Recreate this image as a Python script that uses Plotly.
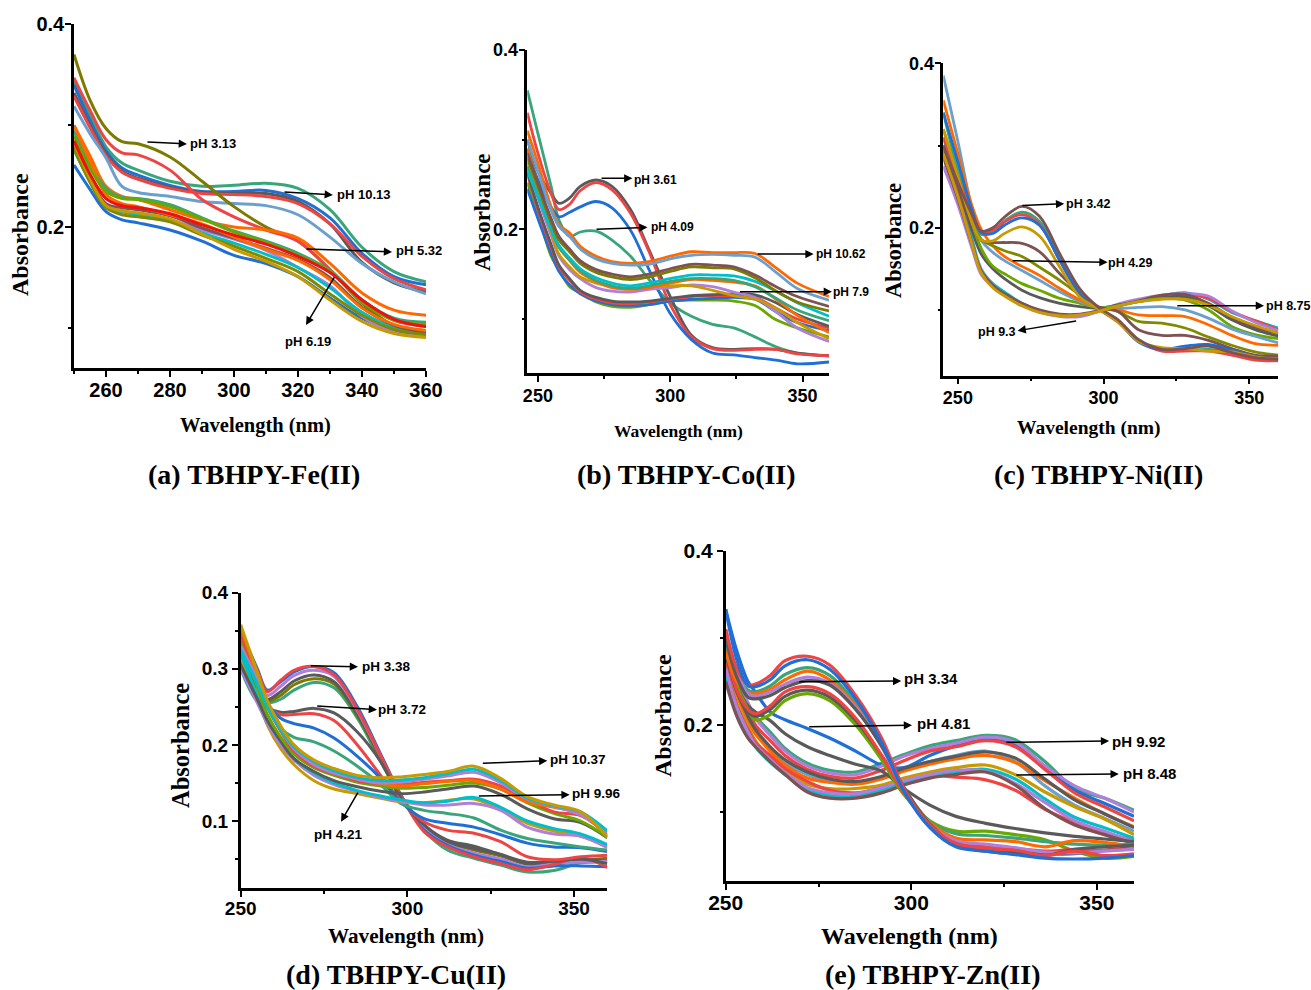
import plotly.graph_objects as go

# Palette of the spectra
BLUE="#1f6fd6"; RED="#ee4444"; DGRAY="#5a5a5a"; GREEN="#38a67a"; ORANGE="#ff6a00"; STEEL="#6b9fce"
BROWN="#7c5252"; OLIVE="#808a00"; GOLD="#c99a00"; LIME="#6aa800"; TEAL="#00bfc8"; PURPLE="#b07fdc"; DOLIVE="#7d7a00"

# ---------- (a) Fe ----------
a_nm=[250,255,260,265,270,280,290,300,310,320,330,340,350,360]
a_ph313=[.370,.325,.297,.284,.282,.269,.245,.220,.200,.186,.158,.125,.103,.098]
a_red1=[.347,.315,.286,.273,.271,.256,.227,.210,.197,.186,.158,.128,.108,.102]
a_ph532=[.300,.270,.240,.230,.227,.217,.207,.200,.197,.189,.164,.135,.118,.113]
a_ph1013=[.343,.310,.279,.263,.256,.245,.240,.241,.243,.238,.217,.180,.156,.146]
a_blue1=[.340,.305,.275,.258,.251,.241,.235,.235,.236,.228,.209,.174,.151,.143]
a_red2=[.329,.298,.270,.254,.247,.238,.233,.232,.230,.223,.203,.171,.149,.138]
a_gray1=[.332,.300,.272,.255,.248,.239,.234,.233,.233,.225,.203,.165,.145,.136]
a_steel=[.319,.292,.268,.240,.234,.230,.225,.223,.221,.212,.190,.164,.146,.134]
a_green2=[.295,.262,.238,.229,.228,.222,.209,.196,.186,.174,.157,.128,.110,.106]
a_lime=[.290,.258,.235,.228,.227,.220,.208,.195,.185,.172,.156,.126,.108,.104]
a_orange2=[.300,.265,.232,.223,.220,.212,.203,.190,.178,.167,.148,.120,.104,.098]
a_brown=[.280,.248,.223,.219,.217,.211,.199,.189,.179,.168,.150,.121,.103,.096]
a_purple=[.278,.246,.222,.216,.213,.207,.197,.188,.177,.160,.142,.112,.096,.092]
a_teal=[.276,.245,.220,.215,.212,.206,.194,.184,.173,.160,.140,.116,.101,.095]
a_gold=[.283,.248,.221,.216,.214,.208,.193,.178,.166,.151,.128,.107,.095,.091]
a_olive2=[.277,.244,.219,.212,.210,.205,.192,.181,.169,.156,.134,.113,.099,.094]
a_blue2=[.261,.237,.215,.207,.204,.197,.186,.172,.164,.151,.130,.110,.098,.095]
a_red3=[.285,.252,.228,.221,.219,.213,.202,.192,.183,.171,.155,.128,.109,.102]
a_series=[(a_ph1013,GREEN),(a_blue1,BLUE),(a_gray1,DGRAY),(a_red2,RED),(a_steel,STEEL),(a_ph313,DOLIVE),(a_red1,RED),
          (a_ph532,ORANGE),(a_blue2,BLUE),(a_purple,PURPLE),(a_teal,TEAL),(a_green2,GREEN),(a_brown,BROWN),(a_orange2,ORANGE),
          (a_olive2,OLIVE),(a_gold,GOLD),(a_lime,LIME),(a_red3,"#f01010")]

# ---------- (b) Co ----------
b_nm=[246,250,255,258,262,266,272,278,285,292,300,308,316,324,332,340,348,360]
b_ph361=[.300,.265,.240,.229,.235,.248,.255,.248,.222,.177,.125,.082,.068,.066,.067,.066,.062,.059]
b_red1=[.330,.285,.240,.222,.228,.243,.252,.244,.218,.175,.116,.080,.067,.065,.066,.066,.061,.059]
b_blue1=[.290,.255,.225,.214,.219,.225,.231,.224,.199,.155,.106,.077,.062,.060,.057,.054,.050,.052]
b_ph409=[.355,.307,.248,.210,.192,.197,.198,.188,.170,.144,.118,.103,.094,.090,.080,.069,.062,.059]
b_ph1062=[.310,.274,.225,.205,.196,.181,.170,.164,.162,.164,.170,.175,.174,.174,.173,.157,.140,.125]
b_steel=[.300,.265,.221,.203,.192,.178,.167,.162,.160,.161,.167,.171,.172,.171,.169,.152,.134,.121]
b_brown=[.285,.252,.212,.192,.178,.165,.155,.150,.147,.150,.156,.161,.160,.158,.149,.136,.125,.114]
b_gold=[.280,.248,.208,.188,.175,.162,.152,.147,.144,.147,.153,.158,.157,.156,.146,.131,.119,.109]
b_teal=[.265,.237,.200,.182,.168,.156,.146,.140,.137,.140,.145,.149,.149,.148,.142,.131,.118,.103]
b_green2=[.270,.238,.200,.180,.166,.154,.143,.137,.134,.137,.142,.145,.145,.143,.136,.123,.110,.098]
b_orange2=[.290,.250,.203,.180,.165,.152,.142,.135,.133,.135,.140,.144,.143,.141,.137,.122,.104,.085]
b_purple=[.270,.235,.193,.170,.155,.145,.135,.131,.130,.133,.135,.138,.136,.130,.124,.108,.090,.075]
b_olive=[.275,.240,.197,.172,.158,.147,.140,.136,.134,.136,.137,.137,.132,.126,.122,.112,.096,.078]
b_ph79=[.265,.225,.183,.160,.145,.132,.124,.120,.119,.120,.123,.126,.127,.128,.127,.118,.105,.092]
b_red2=[.262,.222,.180,.158,.143,.130,.122,.118,.117,.119,.122,.125,.126,.126,.124,.112,.100,.090]
b_blue2=[.245,.212,.173,.153,.138,.128,.120,.116,.115,.116,.120,.122,.123,.124,.122,.108,.096,.087]
b_lime=[.252,.218,.170,.155,.136,.129,.119,.114,.113,.116,.120,.121,.121,.120,.115,.099,.090,.080]
b_series=[(b_ph409,GREEN),(b_ph361,DGRAY),(b_red1,RED),(b_blue1,BLUE),(b_lime,LIME),(b_blue2,BLUE),(b_red2,RED),(b_ph79,DGRAY),
          (b_purple,PURPLE),(b_olive,GOLD),(b_orange2,ORANGE),(b_green2,GREEN),(b_teal,TEAL),(b_gold,DOLIVE),(b_brown,BROWN),
          (b_ph1062,ORANGE),(b_steel,STEEL)]

# ---------- (c) Ni ----------
c_nm=[245,250,255,258,262,266,272,278,285,292,298,305,312,320,328,336,344,352,360]
c_ph342=[.300,.255,.215,.196,.200,.213,.226,.214,.168,.125,.104,.088,.064,.052,.053,.056,.048,.042,.040]
c_green1=[.340,.270,.215,.192,.195,.208,.219,.208,.165,.122,.103,.086,.062,.051,.051,.052,.049,.042,.041]
c_red1=[.310,.262,.214,.195,.197,.207,.216,.204,.160,.119,.102,.085,.062,.050,.050,.050,.045,.039,.038]
c_blue1=[.340,.280,.220,.194,.193,.203,.212,.203,.160,.119,.102,.086,.061,.052,.056,.058,.051,.043,.040]
c_gold1=[.320,.262,.205,.185,.184,.193,.201,.190,.152,.115,.102,.085,.062,.054,.053,.050,.049,.043,.040]
c_brown2=[.295,.250,.205,.185,.182,.182,.181,.171,.144,.120,.104,.098,.076,.069,.069,.063,.053,.045,.044]
c_olive=[.300,.252,.206,.186,.178,.172,.165,.152,.136,.118,.104,.098,.086,.084,.078,.067,.057,.049,.045]
c_orange=[.355,.290,.225,.198,.178,.165,.153,.142,.126,.112,.103,.100,.094,.093,.092,.082,.069,.059,.057]
c_ph429=[.385,.305,.220,.185,.170,.160,.148,.136,.122,.110,.103,.102,.103,.104,.100,.090,.077,.068,.060]
c_lime=[.320,.262,.205,.175,.153,.144,.132,.124,.114,.108,.103,.105,.110,.114,.112,.100,.080,.070,.065]
c_dgray=[.300,.250,.195,.168,.150,.138,.124,.115,.108,.104,.102,.106,.110,.115,.116,.105,.088,.076,.068]
c_ph875=[.310,.250,.185,.150,.132,.122,.108,.099,.093,.093,.098,.106,.111,.117,.121,.113,.097,.087,.078]
c_red3=[.290,.240,.180,.148,.130,.119,.106,.098,.093,.093,.098,.106,.112,.116,.119,.114,.098,.087,.076]
c_purple=[.275,.228,.173,.143,.128,.118,.105,.097,.092,.092,.098,.107,.113,.118,.120,.117,.099,.085,.075]
c_brown3=[.285,.235,.178,.147,.130,.120,.108,.100,.095,.095,.099,.105,.111,.118,.119,.108,.091,.079,.071]
c_ph93=[.290,.238,.178,.145,.127,.117,.105,.097,.093,.094,.098,.105,.110,.113,.113,.106,.092,.081,.072]
c_series=[(c_ph875,TEAL),(c_red3,RED),(c_purple,PURPLE),(c_brown3,BROWN),(c_dgray,DGRAY),(c_lime,LIME),(c_ph429,STEEL),(c_orange,ORANGE),
          (c_olive,OLIVE),(c_brown2,BROWN),(c_green1,GREEN),(c_red1,RED),(c_blue1,BLUE),(c_gold1,GOLD),(c_ph342,BROWN),(c_ph93,GOLD)]

# ---------- (d) Cu ----------
d_nm=[250,255,258,262,266,272,278,285,292,298,305,312,320,328,336,344,352,360]
d_blue=[.350,.300,.272,.283,.296,.303,.295,.250,.188,.135,.088,.068,.055,.047,.038,.041,.041,.040]
d_ph338=[.340,.298,.270,.285,.298,.303,.292,.247,.186,.134,.086,.066,.053,.044,.036,.043,.052,.039]
d_purple1=[.330,.292,.265,.277,.291,.298,.290,.245,.185,.133,.090,.069,.058,.050,.040,.044,.046,.047]
d_brown=[.310,.275,.260,.270,.284,.292,.283,.240,.183,.133,.095,.073,.064,.056,.044,.043,.049,.048]
d_gold1=[.320,.280,.258,.265,.279,.287,.280,.238,.182,.133,.092,.072,.062,.054,.043,.045,.048,.051]
d_green1=[.300,.258,.255,.260,.272,.282,.275,.235,.178,.132,.088,.062,.051,.042,.033,.035,.045,.046]
d_ph372=[.330,.285,.250,.243,.244,.248,.242,.217,.178,.130,.095,.075,.067,.056,.046,.047,.050,.044]
d_red2=[.335,.288,.252,.240,.240,.241,.232,.200,.160,.127,.099,.088,.084,.073,.053,.049,.053,.055]
d_blue2=[.325,.282,.255,.235,.228,.222,.209,.185,.156,.125,.103,.097,.092,.082,.071,.066,.065,.060]
d_green2=[.345,.285,.250,.222,.210,.204,.192,.172,.148,.123,.114,.110,.104,.088,.077,.071,.066,.062]
d_ph1037=[.358,.295,.258,.225,.200,.180,.169,.160,.157,.158,.161,.165,.172,.156,.132,.121,.112,.079]
d_teal1=[.325,.280,.250,.220,.197,.178,.166,.157,.153,.154,.157,.162,.168,.153,.130,.120,.112,.087]
d_purple2=[.330,.285,.252,.220,.195,.174,.163,.155,.150,.151,.155,.159,.164,.150,.129,.119,.108,.085]
d_red3=[.345,.288,.250,.218,.192,.172,.162,.153,.149,.148,.151,.153,.155,.146,.128,.112,.107,.082]
d_orange=[.355,.290,.255,.222,.195,.176,.166,.156,.149,.146,.149,.152,.153,.142,.125,.118,.110,.080]
d_lime=[.340,.275,.240,.210,.188,.170,.160,.151,.146,.143,.144,.147,.150,.142,.124,.110,.100,.079]
d_ph996=[.305,.260,.232,.205,.182,.165,.153,.145,.139,.136,.138,.142,.146,.135,.116,.103,.098,.078]
d_teal2=[.320,.265,.232,.205,.182,.163,.150,.140,.133,.128,.124,.126,.131,.118,.100,.090,.083,.069]
d_purple3=[.300,.255,.228,.200,.180,.160,.148,.139,.131,.126,.121,.121,.123,.114,.092,.083,.080,.065]
d_ph421=[.315,.262,.226,.195,.174,.153,.142,.136,.130,.125,.124,.127,.129,.115,.097,.087,.080,.067]
d_series=[(d_green1,GREEN),(d_gold1,DOLIVE),(d_brown,DGRAY),(d_purple1,PURPLE),(d_blue,BLUE),(d_ph338,RED),(d_ph372,DGRAY),(d_red2,RED),(d_blue2,BLUE),(d_green2,GREEN),
          (d_ph421,GOLD),(d_purple3,PURPLE),(d_teal2,TEAL),(d_ph996,DGRAY),(d_lime,LIME),(d_red3,RED),(d_orange,ORANGE),(d_purple2,PURPLE),(d_teal1,TEAL),(d_ph1037,GOLD)]

# ---------- (e) Zn ----------
e_nm=[250,253,256,258,262,266,272,278,285,292,298,305,312,320,328,336,344,352,360]
e_red1=[.310,.265,.246,.247,.257,.274,.279,.269,.234,.185,.127,.085,.064,.058,.056,.050,.055,.050,.052]
e_blue1=[.333,.275,.245,.244,.252,.268,.275,.264,.230,.180,.124,.082,.060,.055,.051,.047,.046,.047,.050]
e_green1=[.295,.258,.240,.238,.245,.258,.266,.257,.225,.178,.128,.089,.075,.073,.070,.066,.063,.062,.063]
e_orange1=[.285,.250,.237,.236,.241,.252,.262,.252,.222,.176,.127,.088,.070,.068,.066,.060,.067,.065,.060]
e_purple1=[.310,.262,.236,.233,.238,.247,.255,.248,.220,.175,.125,.085,.067,.063,.059,.054,.053,.055,.057]
e_ph334=[.300,.255,.232,.230,.234,.243,.251,.246,.218,.176,.128,.086,.062,.055,.052,.050,.057,.060,.062]
e_red2=[.290,.240,.218,.213,.222,.238,.244,.236,.208,.165,.122,.085,.065,.060,.058,.055,.057,.056,.058]
e_gray2=[.285,.238,.215,.210,.218,.233,.240,.232,.205,.165,.125,.087,.066,.056,.054,.052,.052,.056,.059]
e_lime=[.288,.245,.218,.206,.212,.228,.236,.228,.200,.160,.120,.090,.078,.078,.074,.068,.055,.047,.049]
e_ph481=[.333,.285,.250,.238,.215,.206,.196,.185,.170,.154,.151,.165,.176,.184,.178,.150,.125,.110,.095]
e_gray3=[.290,.245,.222,.215,.205,.190,.175,.165,.155,.147,.127,.108,.095,.087,.081,.076,.072,.069,.066]
e_ph992=[.300,.250,.225,.210,.192,.173,.156,.148,.146,.156,.166,.176,.182,.188,.183,.158,.127,.116,.102]
e_purple2=[.305,.255,.225,.208,.188,.170,.153,.145,.143,.153,.164,.173,.179,.186,.180,.153,.130,.116,.100]
e_red3=[.300,.248,.218,.200,.182,.165,.149,.141,.139,.148,.159,.170,.175,.182,.175,.149,.122,.106,.090]
e_gray4=[.280,.240,.210,.195,.175,.160,.146,.138,.135,.141,.150,.158,.164,.169,.162,.138,.114,.098,.082]
e_steel=[.275,.235,.205,.190,.172,.157,.143,.136,.133,.140,.149,.158,.165,.170,.158,.130,.108,.093,.078]
e_orange2=[.283,.235,.205,.190,.170,.154,.139,.134,.132,.138,.147,.155,.161,.165,.157,.136,.116,.098,.083]
e_ph848=[.270,.225,.198,.182,.162,.147,.132,.127,.127,.131,.139,.146,.151,.154,.143,.123,.106,.092,.074]
e_teal=[.258,.215,.190,.175,.157,.143,.126,.119,.118,.125,.133,.141,.146,.149,.138,.115,.094,.082,.070]
e_purple3=[.265,.220,.192,.177,.160,.145,.128,.122,.121,.128,.136,.143,.148,.147,.133,.111,.090,.078,.066]
e_red4=[.270,.222,.195,.180,.165,.150,.135,.125,.122,.128,.135,.142,.140,.137,.125,.103,.088,.076,.068]
e_brown=[.250,.210,.185,.175,.158,.143,.123,.116,.116,.122,.131,.139,.143,.146,.131,.104,.085,.074,.064]
e_series=[(e_ph992,GREEN),(e_ph481,BLUE),(e_purple2,PURPLE),(e_red3,RED),(e_steel,STEEL),(e_orange2,ORANGE),(e_gray4,DGRAY),(e_ph848,GOLD),(e_red4,RED),(e_teal,TEAL),(e_purple3,PURPLE),(e_brown,BROWN),
          (e_gray3,DGRAY),(e_lime,LIME),(e_gray2,DGRAY),(e_red2,RED),(e_green1,GREEN),(e_orange1,ORANGE),(e_purple1,PURPLE),(e_ph334,DGRAY),(e_red1,RED),(e_blue1,BLUE)]

# text
x_title="Wavelength (nm)"; y_title="Absorbance"
TIMES="Liberation Serif"; ARIAL="Liberation Sans"
BLACK="#000000"

# frame: pixel box, axis ranges, ticks and per-panel font sizes
panels=[
 dict(nm=a_nm,series=a_series,box=(74,426,24,368),xr=(250,360),yr=(.061,.4),xt=[260,280,300,320,340,360],xm=[250,270,290,310,330,350],
      yt=[.2,.4],ym=[.1,.3],tick=20,xs=-4,ys=-3,xtitle=20.5,ytitle=24,xpos=(255,425),ypos=(20,235),note=13,w=3,caption="(a) TBHPY-Fe(II)",cap=(254,474),
      notes=[("pH 3.13",272.5,.2837,285.3,.2818,286.3,.2818,"left"),("pH 10.13",315.3,.2345,330.9,.2315,332.2,.2315,"left"),
             ("pH 5.32",322.2,.1783,349.4,.1754,350.6,.1764,"left"),("pH 6.19",331.6,.1517,322.5,.1034,323.1,.0867,"center")]),
 dict(nm=b_nm,series=b_series,box=(527.3,829,50,373.3),xr=(246,360),yr=(.0394,.4),xt=[250,300,350],xm=[275,325],
      yt=[.2,.4],ym=[.1,.3],tick=18,xs=-2,ys=-3,xtitle=17.5,ytitle=23,xpos=(678,431),ypos=(482,212),note=12,w=2.8,caption="(b) TBHPY-Co(II)",cap=(686,474),
      notes=[("pH 3.61",273.5,.2569,285.7,.2569,286.3,.2555,"left"),("pH 4.09",271.6,.2,291.4,.2022,292.6,.2022,"left"),
             ("pH 10.62",332.5,.1724,354.2,.1724,354.9,.1724,"left"),("pH 7.9",325.8,.1304,361.1,.1304,361.7,.1304,"left")]),
 dict(nm=c_nm,series=c_series,box=(943.3,1278.3,63.3,375.7),xr=(245,360),yr=(.02,.4),xt=[250,300,350],xm=[275,325],
      yt=[.2,.4],ym=[.1,.3],tick=18,xs=-2,ys=-3,xtitle=19.5,ytitle=22.5,xpos=(1089,428),ypos=(893,241),note=12.5,w=2.8,caption="(c) TBHPY-Ni(II)",cap=(1098,474),
      notes=[("pH 3.42",271.6,.2268,286.5,.2292,287.1,.2292,"left"),("pH 4.29",268.3,.1599,301.4,.1579,301.7,.1567,"left"),
             ("pH 8.75",324.8,.1051,355.1,.1051,355.7,.1051,"left"),("pH 9.3",291.1,.0869,270.5,.0747,270.0,.0735,"right")]),
 dict(nm=d_nm,series=d_series,box=(240.7,607.3,592.7,888.3),xr=(250,360),yr=(.0116,.4),xt=[250,300,350],xm=[275,325],
      yt=[.1,.2,.3,.4],ym=[.05,.15,.25,.35],tick=19,xs=-5,ys=0,xtitle=21.2,ytitle=24.5,xpos=(406,936),ypos=(180,746),note=13.5,w=3,caption="(d) TBHPY-Cu(II)",cap=(396,974),
      notes=[("pH 3.38",270.6,.3041,285.2,.3028,286.4,.3028,"left"),("pH 3.72",272.5,.2511,290.9,.2463,291.2,.2463,"left"),
             ("pH 10.37",322.2,.1758,342,.1792,342.8,.1811,"left"),("pH 9.96",321,.1329,348.7,.1346,349.3,.1364,"left"),
             ("pH 4.21",285.4,.1394,280.1,.0991,279.3,.0825,"center")]),
 dict(nm=e_nm,series=e_series,box=(725.7,1134,551,881),xr=(250,360),yr=(.0207,.4),xt=[250,300,350],xm=[275,325],
      yt=[.2,.4],ym=[.1,.3],tick=21,xs=-5,ys=0,xtitle=24,ytitle=24,xpos=(909,936),ypos=(663,716),note=15,w=3.2,caption="(e) TBHPY-Zn(II)",cap=(932,974),
      notes=[("pH 3.34",269.4,.2498,297.3,.2506,298,.2529,"left"),("pH 4.81",272.1,.198,300.2,.1997,301.6,.2020,"left"),
             ("pH 9.92",325.2,.1801,353.3,.1816,354.2,.1816,"left"),("pH 8.48",327.9,.1425,355.9,.1437,357.1,.1437,"left")]),
]

W,H=1311,990
fig=go.Figure()
layout={}
annotations=[]
for i,p in enumerate(panels,1):
    sfx="" if i==1 else str(i)
    xa,ya="x"+sfx,"y"+sfx
    for vals,col in p["series"]:
        fig.add_trace(go.Scatter(x=p["nm"],y=vals,xaxis=xa,yaxis=ya,mode="lines",showlegend=False,hoverinfo="skip",
                                 line=dict(color=col,width=p["w"],shape="spline",smoothing=1)))
    l,r,t,b=p["box"]
    x0r,x1r=p["xr"]; y0r,y1r=p["yr"]
    def px(v): return l+(v-x0r)/(x1r-x0r)*(r-l)
    def py(v): return b-(v-y0r)/(y1r-y0r)*(b-t)
    tickfont=dict(family=ARIAL,size=p["tick"],color=BLACK,weight="bold")
    layout["xaxis"+sfx]=dict(domain=[l/W,r/W],range=list(p["xr"]),anchor=ya,automargin=False,tickvals=p["xt"],ticktext=[str(v) for v in p["xt"]],
        ticks="outside",ticklen=6,tickwidth=2,tickcolor=BLACK,showline=True,linewidth=2.5,linecolor=BLACK,showgrid=False,zeroline=False,
        ticklabelstandoff=p["xs"],tickfont=tickfont,minor=dict(tickvals=p["xm"],ticks="outside",ticklen=3,tickwidth=1.5,tickcolor=BLACK,showgrid=False))
    layout["yaxis"+sfx]=dict(domain=[1-b/H,1-t/H],range=list(p["yr"]),anchor=xa,automargin=False,tickvals=p["yt"],ticktext=[f"{v:.1f}" for v in p["yt"]],
        ticks="outside",ticklen=6,tickwidth=2,tickcolor=BLACK,showline=True,linewidth=2.5,linecolor=BLACK,showgrid=False,zeroline=False,
        ticklabelstandoff=p["ys"],tickfont=tickfont,minor=dict(tickvals=p["ym"],ticks="outside",ticklen=3,tickwidth=1.5,tickcolor=BLACK,showgrid=False))
    annotations.append(dict(x=p["xpos"][0]/W,y=1-p["xpos"][1]/H,xref="paper",yref="paper",text=x_title,showarrow=False,xanchor="center",yanchor="middle",
                            font=dict(family=TIMES,size=p["xtitle"],color=BLACK,weight="bold")))
    annotations.append(dict(x=p["ypos"][0]/W,y=1-p["ypos"][1]/H,xref="paper",yref="paper",text=y_title,showarrow=False,xanchor="center",yanchor="middle",textangle=-90,
                            font=dict(family=TIMES,size=p["ytitle"],color=BLACK,weight="bold")))
    for text,x0,y0,x1,y1,tx,ty,anc in p["notes"]:
        annotations.append(dict(x=px(x1)/W,y=1-py(y1)/H,ax=px(x0)-px(x1),ay=py(y0)-py(y1),xref="paper",yref="paper",axref="pixel",ayref="pixel",
                                text="",showarrow=True,arrowhead=2,arrowsize=1.1,arrowwidth=1.5,arrowcolor=BLACK))
        shift={"left":-2,"right":2,"center":0}[anc]
        annotations.append(dict(x=px(tx)/W,y=1-py(ty)/H,xref="paper",yref="paper",xshift=shift,text=text,showarrow=False,xanchor=anc,yanchor="middle",
                                font=dict(family=ARIAL,size=p["note"],color=BLACK,weight="bold")))
    annotations.append(dict(x=p["cap"][0]/W,y=1-p["cap"][1]/H,xref="paper",yref="paper",text=p["caption"],showarrow=False,
                            xanchor="center",yanchor="middle",font=dict(family=TIMES,size=28,color=BLACK,weight="bold")))

fig.update_layout(width=W,height=H,margin=dict(l=0,r=0,t=0,b=0),paper_bgcolor="white",plot_bgcolor="white",
                  showlegend=False,annotations=annotations,**layout)
fig.write_html("out.html",config={"displayModeBar":False},post_script="document.body.style.margin='0';")
